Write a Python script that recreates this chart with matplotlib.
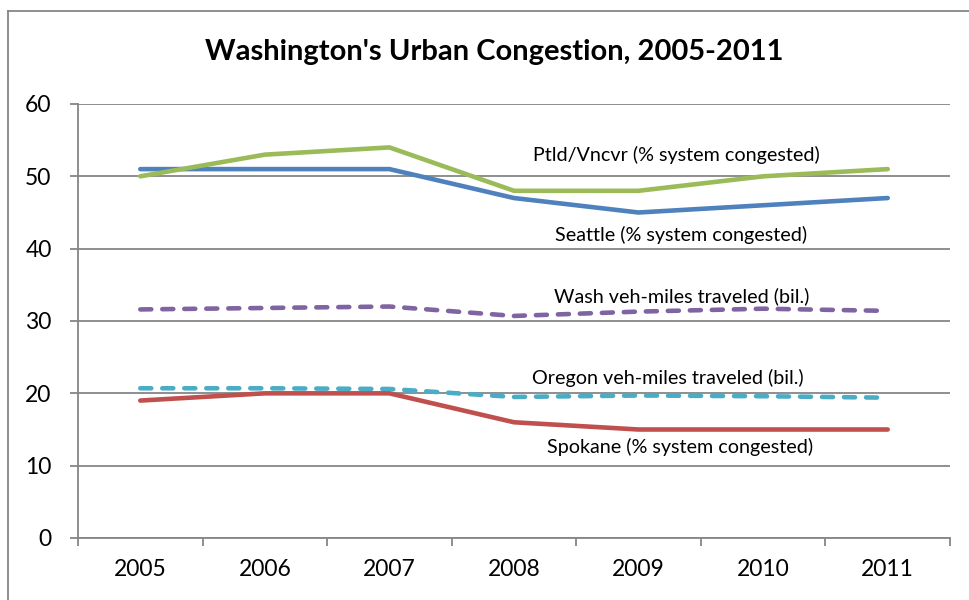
import matplotlib
matplotlib.use("Agg")
import matplotlib.pyplot as plt
from matplotlib.lines import Line2D

years = ["2005", "2006", "2007", "2008", "2009", "2010", "2011"]
seattle = [51, 51, 51, 47, 45, 46, 47]
ptld = [50, 53, 54, 48, 48, 50, 51]
wash_vmt = [31.6, 31.8, 32.0, 30.7, 31.3, 31.7, 31.4]
oregon_vmt = [20.7, 20.7, 20.6, 19.5, 19.7, 19.6, 19.4]
spokane = [19, 20, 20, 16, 15, 15, 15]
yticks = [0, 10, 20, 30, 40, 50, 60]

plt.rcParams['font.family'] = ['Lato', 'DejaVu Sans']

W, H = 969, 600
fig = plt.figure(figsize=(W/100, H/100), dpi=100)
ax = fig.add_axes([78/W, 1-538/H, (950-78)/W, (538-104)/H])

x = list(range(len(years)))
lw = 3.3
ax.plot(x, seattle, color="#4F81BD", lw=lw, solid_capstyle='round', zorder=3)
ax.plot(x, ptld, color="#9BBB59", lw=lw, solid_capstyle='round', zorder=3)
ax.plot(x, wash_vmt, color="#8064A2", lw=lw, linestyle=(0, (2.4, 2.4)), dash_capstyle='round', zorder=3)
ax.plot(x, oregon_vmt, color="#4BACC6", lw=lw, linestyle=(0, (2.4, 2.4)), dash_capstyle='round', zorder=3)
ax.plot(x, spokane, color="#C0504D", lw=lw, solid_capstyle='round', zorder=3)

ax.set_xlim(-0.5, len(years) - 0.5)
ax.set_ylim(0, 60)
ax.set_yticks(yticks)
ax.set_yticklabels([str(v) for v in yticks])
ax.set_xticks([i - 0.5 for i in range(len(years) + 1)])
ax.set_xticklabels([])
ax.set_xticks(x, minor=True)
ax.set_xticklabels(years, minor=True)
ax.tick_params(axis='x', which='minor', length=0, pad=15, labelsize=16.5)
ax.tick_params(axis='x', which='major', length=6, color="#868686", width=1.3)
ax.tick_params(axis='y', length=6, color="#868686", width=1.3, pad=13, labelsize=16.5)

ax.grid(axis='y', color="#868686", lw=1.3, zorder=0)
for s in ['top', 'right']:
    ax.spines[s].set_visible(False)
for s in ['left', 'bottom']:
    ax.spines[s].set_color("#868686")
    ax.spines[s].set_linewidth(1.3)

def fx(px):
    return px / W
def fy(py):
    return 1 - py / H

lab_fs = 14.2
fig.text(fx(676), fy(155), "Ptld/Vncvr (% system congested)", ha='center', va='center', fontsize=lab_fs)
fig.text(fx(681), fy(235), "Seattle (% system congested)", ha='center', va='center', fontsize=lab_fs)
fig.text(fx(682), fy(296), "Wash veh-miles traveled (bil.)", ha='center', va='center', fontsize=lab_fs)
fig.text(fx(668), fy(378), "Oregon veh-miles traveled (bil.)", ha='center', va='center', fontsize=lab_fs)
fig.text(fx(680), fy(447), "Spokane (% system congested)", ha='center', va='center', fontsize=lab_fs)

fig.text(fx(494), fy(52), "Washington's Urban Congestion, 2005-2011", ha='center', va='center',
         fontsize=21, fontweight='bold')

fig.add_artist(Line2D([fx(8), fx(8)], [fy(11), 0], color="#868686", lw=1.3))
fig.add_artist(Line2D([fx(8), 1], [fy(11), fy(11)], color="#868686", lw=1.3))

fig.savefig("out.png", dpi=100)
